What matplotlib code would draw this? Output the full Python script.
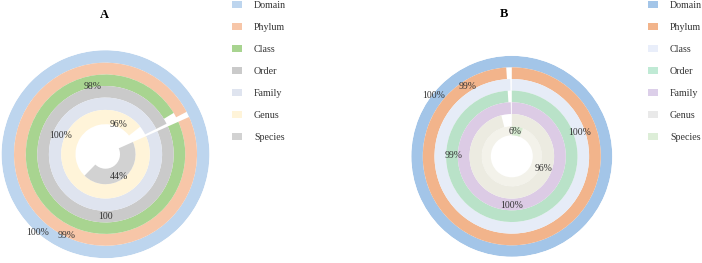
import matplotlib.pyplot as plt
import numpy as np
from matplotlib.patches import Patch

plt.rcParams['font.family'] = ['Liberation Serif', 'DejaVu Serif']

levels = ['Domain', 'Phylum', 'Class', 'Order', 'Family', 'Genus', 'Species']

# percent of sequences classified at each rank
values_a = [100, 99, 98, 99.3, 99.3, 96, 44]
labels_a = ['100%', '99%', '98%', '100', '100%', '96%', '44%']
values_b = [100, 99, 99.7, 99, 99.7, 96, 6]
labels_b = ['100%', '99%', '100%', '99%', '100%', '96%', '6%']

colors_a = ['#bdd5ee', '#f7c6a8', '#a8d490', '#cacaca', '#dfe4ef', '#fff4d9', '#d2d2d2']
colors_b = ['#a3c5e8', '#f2b48b', '#e6ecf7', '#b9e2c8', '#dccbe5', '#ecebe1', '#d5ebd0']
legend_b = ['#a3c5e8', '#f2b48b', '#e9eefa', '#c0ead5', '#dccfe9', '#e9e9e9', '#ddeed8']

W, H = 702, 263
fig = plt.figure(figsize=(W / 100, H / 100), dpi=100)


def ring_chart(cx, cy, R, edges, values, colors, start, labels, lab_pos, bg=None):
    ax = fig.add_axes([(cx - R) / W, (H - cy - R) / H, 2 * R / W, 2 * R / H],
                      projection='polar')
    ax.set_ylim(0, R)
    ax.set_axis_off()
    s = np.deg2rad(start)
    if bg is not None:
        ax.bar(0, edges[-2] - edges[-1], width=2 * np.pi, bottom=edges[-1],
               color=bg, linewidth=0)
    for i, v in enumerate(values):
        w = 2 * np.pi * v / 100
        ax.bar(s - w, edges[i] - edges[i + 1], width=w, bottom=edges[i + 1],
               align='edge', color=colors[i], linewidth=0)
    for txt, (ang, r) in zip(labels, lab_pos):
        ax.text(np.deg2rad(ang), r, txt, ha='center', va='center',
                fontsize=7, color='#333333')
    return ax


edges_a = [104, 91.5, 79.7, 68.2, 56.6, 44.3, 30, 14.5]
pos_a = [(229, 104), (244.6, 90), (101, 69), (-90, 62), (157, 49), (66, 33), (-58, 26)]
ring_chart(105.5, 154.2, 104, edges_a, values_a, colors_a, 24, labels_a, pos_a)

edges_b = [100.5, 89, 77.3, 65.7, 54, 42.3, 30, 21]
pos_b = [(141.8, 99), (122.3, 82), (18.9, 72), (179.7, 57.8), (-90, 48.7),
         (-21.5, 34.6), (82.8, 25.5)]
ring_chart(511.8, 156.3, 100.5, edges_b, values_b, colors_b, 90, labels_b, pos_b,
           bg='#f3f2ea')

fig.text(104.3 / W, 1 - 15 / H, 'A', ha='center', va='center', fontsize=9,
         fontweight='bold')
fig.text(503.7 / W, 1 - 14 / H, 'B', ha='center', va='center', fontsize=9,
         fontweight='bold')

for x0, cols in [(232, colors_a), (648, legend_b)]:
    handles = [Patch(facecolor=c, edgecolor='none') for c in cols]
    fig.legend(handles, levels, loc='upper left',
               bbox_to_anchor=(x0 / W, 1 - 1 / H), frameon=False,
               fontsize=7.2, handlelength=1.0, handleheight=0.7,
               handletextpad=1.2, labelspacing=1.3, borderpad=0,
               borderaxespad=0, labelcolor='#333333')

fig.savefig('out.png', dpi=100)
